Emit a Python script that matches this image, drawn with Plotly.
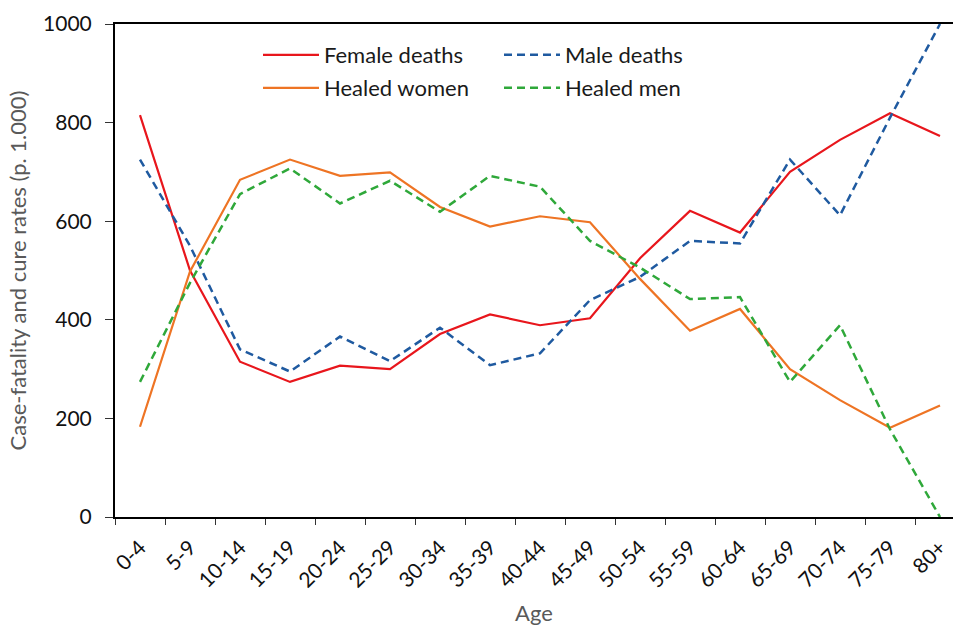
import plotly.graph_objects as go

ages = ["0-4", "5-9", "10-14", "15-19", "20-24", "25-29", "30-34", "35-39", "40-44",
        "45-49", "50-54", "55-59", "60-64", "65-69", "70-74", "75-79", "80+"]

female_deaths = [815, 500, 315, 274, 307, 300, 371, 411, 389, 403, 525, 621, 577, 700, 765, 819, 773]
male_deaths = [725, 550, 340, 295, 366, 316, 384, 308, 332, 440, 487, 560, 555, 725, 612, 810, 1000]
healed_women = [183, 498, 684, 725, 692, 699, 629, 589, 610, 598, 483, 378, 422, 300, 237, 181, 226]
healed_men = [274, 475, 655, 707, 636, 682, 619, 692, 670, 560, 506, 442, 446, 274, 389, 178, 0]

FONT = "Lato, 'Open Sans', sans-serif"

fig = go.Figure()
fig.add_trace(go.Scatter(x=ages, y=female_deaths, name="Female deaths", mode="lines",
                         line=dict(color="#E8161C", width=2.2), legend="legend"))
fig.add_trace(go.Scatter(x=ages, y=male_deaths, name="Male deaths", mode="lines",
                         line=dict(color="#1F5AA0", width=2.5, dash="8px,5px"), legend="legend"))
fig.add_trace(go.Scatter(x=ages, y=healed_women, name="Healed women", mode="lines",
                         line=dict(color="#EE7424", width=2.2), legend="legend2"))
fig.add_trace(go.Scatter(x=ages, y=healed_men, name="Healed men", mode="lines",
                         line=dict(color="#2FA83A", width=2.5, dash="8px,5px"), legend="legend2"))

legend_common = dict(orientation="h", xanchor="left", yanchor="middle",
                     font=dict(family=FONT, size=22, color="#1a1a1a"),
                     entrywidth=170, entrywidthmode="pixels", itemwidth=56,
                     bgcolor="rgba(0,0,0,0)", traceorder="normal")

fig.update_layout(
    width=953, height=626,
    margin=dict(l=115, r=0, t=24, b=109, pad=0),
    paper_bgcolor="white", plot_bgcolor="white",
    font=dict(family=FONT, color="#111111"),
    legend=dict(x=(258 - 115) / 838, y=(517 - 55) / 493, **legend_common),
    legend2=dict(x=(258 - 115) / 838, y=(517 - 88) / 493, **legend_common),
    xaxis=dict(
        type="category", range=[-0.5, 16.26], tickson="boundaries",
        automargin=False,
        showline=True, linecolor="black", linewidth=2, mirror=True,
        ticks="outside", ticklen=6, tickcolor="#333333", tickwidth=1.2,
        tickangle=-45, tickfont=dict(family=FONT, size=21, color="#111111"),
        ticklabelstandoff=8,
        showgrid=False, zeroline=False,
        title=dict(text="Age", font=dict(family=FONT, size=22, color="#595959"), standoff=28),
    ),
    yaxis=dict(
        range=[0, 1000], dtick=200, tick0=0,
        automargin=False,
        showline=True, linecolor="black", linewidth=2,
        ticks="outside", ticklen=8, tickcolor="#333333", tickwidth=1.2,
        tickfont=dict(family=FONT, size=21, color="#111111"), ticklabelstandoff=9,
        showgrid=False, zeroline=False,
        title=dict(text="Case-fatality and cure rates (p. 1.000)",
                   font=dict(family=FONT, size=22, color="#595959"), standoff=10),
    ),
)

fig.write_html("out.html", config={"displayModeBar": False},
               post_script="document.body.style.margin='0';")
